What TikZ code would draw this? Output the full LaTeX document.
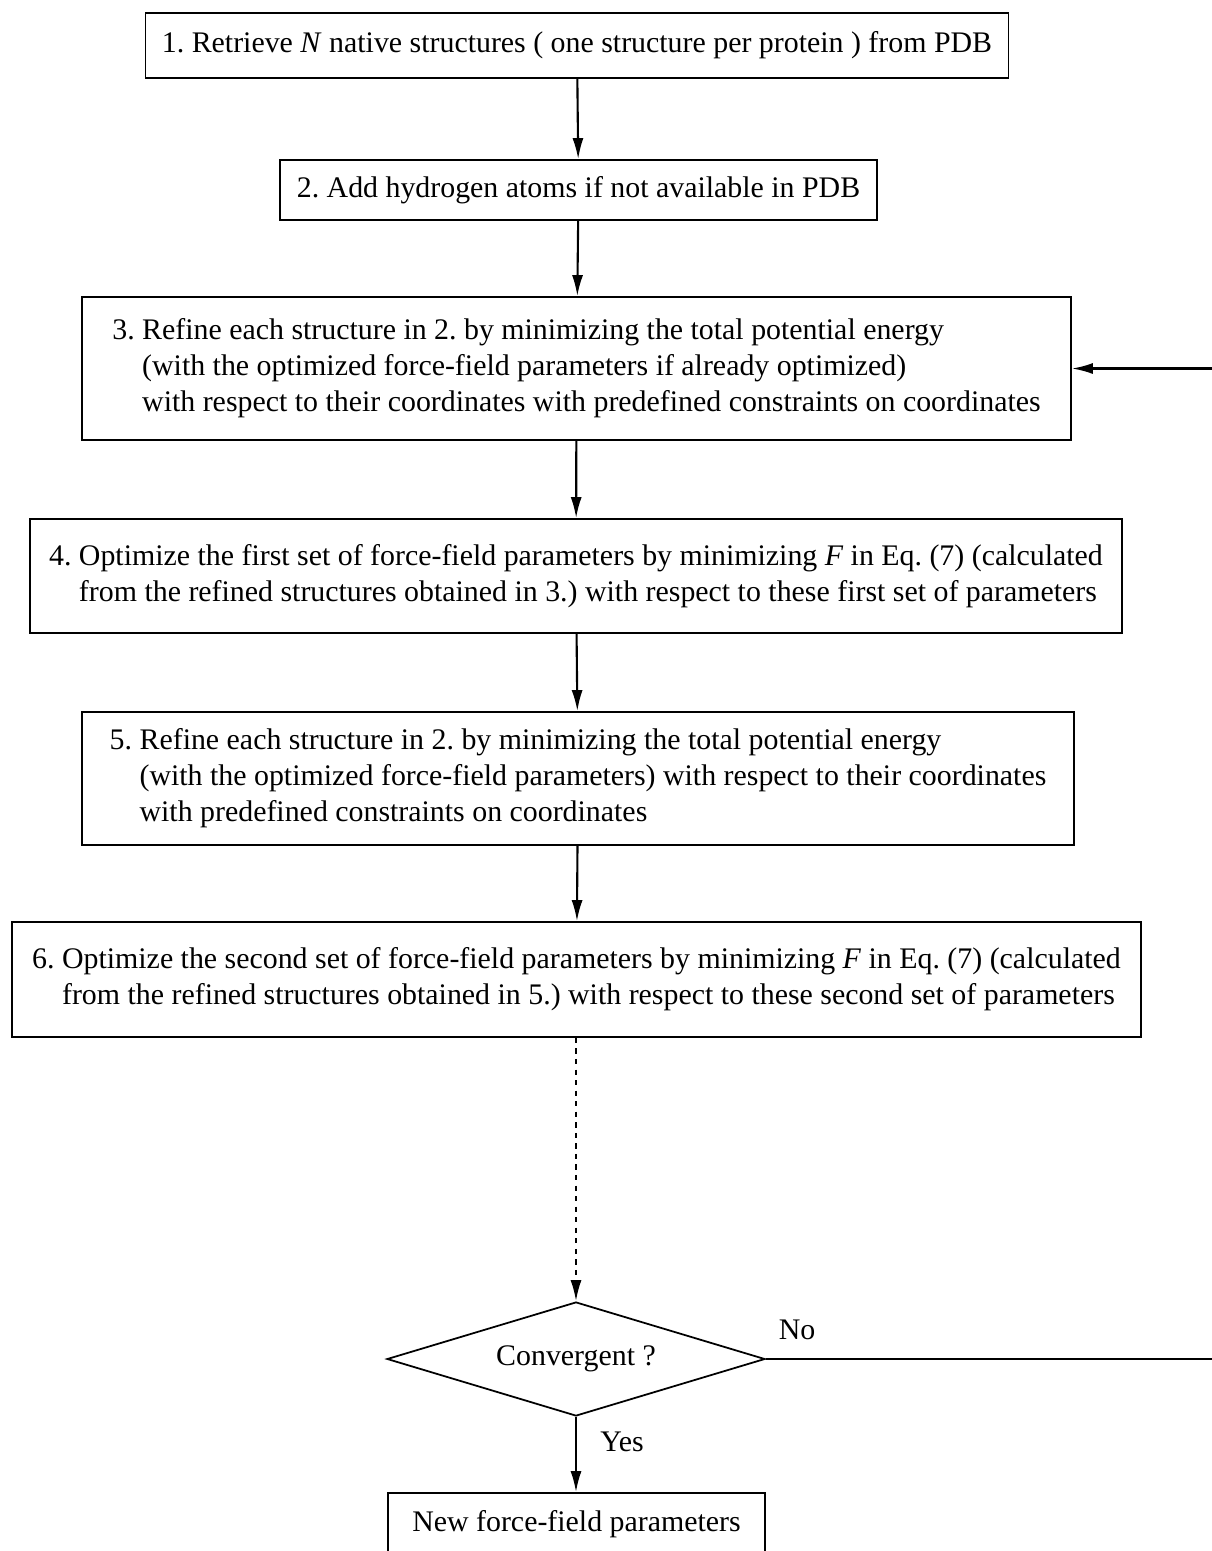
\documentclass[tikz,border=0pt]{standalone}
\usepackage{fontspec}
\setmainfont{Liberation Serif}
\usetikzlibrary{shapes.geometric,arrows.meta}
\frenchspacing

\begin{document}
\begin{tikzpicture}[
        box/.style={draw, line width=1pt, inner sep=0pt, align=left, font=\fontsize{17}{20.5}\selectfont},
        arr/.style={-{Latex[length=0.42cm,width=0.22cm]}, line width=1.2pt},
        lbl/.style={font=\fontsize{17}{20.5}\selectfont}
    ]
        \useasboundingbox (0,0) rectangle (24.24,-31.02);
        % steps
        \node[box, minimum width=17.26cm, minimum height=1.3cm] (s1) at (11.54,-0.91)
            {1. Retrieve \textit{N} native structures ( one structure per protein ) from PDB};
        \node[box, minimum width=11.94cm, minimum height=1.2cm] (s2) at (11.57,-3.8)
            {2. Add hydrogen atoms if not available in PDB};
        \node[box, minimum width=19.78cm, minimum height=2.86cm] (s3) at (11.53,-7.37)
            {3. Refine each structure in 2. by minimizing the total potential energy\\
             \hphantom{3.\ }(with the optimized force-field parameters if already optimized)\\
             \hphantom{3.\ }with respect to their coordinates with predefined constraints on coordinates};
        \node[box, minimum width=21.84cm, minimum height=2.28cm] (s4) at (11.52,-11.52)
            {4. Optimize the first set of force-field parameters by minimizing \textit{F} in Eq. (7) (calculated\\
             \hphantom{4.\ }from the refined structures obtained in 3.) with respect to these first set of parameters};
        \node[box, minimum width=19.84cm, minimum height=2.66cm] (s5) at (11.56,-15.57)
            {5. Refine each structure in 2. by minimizing the total potential energy\\
             \hphantom{5.\ }(with the optimized force-field parameters) with respect to their coordinates\\
             \hphantom{5.\ }with predefined constraints on coordinates};
        \node[box, minimum width=22.58cm, minimum height=2.3cm] (s6) at (11.53,-19.59)
            {6. Optimize the second set of force-field parameters by minimizing \textit{F} in Eq. (7) (calculated\\
             \hphantom{6.\ }from the refined structures obtained in 5.) with respect to these second set of parameters};
        \node[box, diamond, aspect=3.3, minimum width=7.56cm, minimum height=2.28cm] (conv) at (11.52,-27.18)
            {Convergent ?};
        \node[box, minimum width=7.54cm, minimum height=1.24cm] (new) at (11.53,-30.48)
            {New force-field parameters};
        \node[lbl] (no) at (15.94,-26.6) {No};
        \node[lbl] (yes) at (12.44,-28.84) {Yes};
        \coordinate (rt) at (24.3,0);
        % arrows
        \draw[arr] (s1) -- (s2);
        \draw[arr] (s2) -- (s3);
        \draw[arr] (s3) -- (s4);
        \draw[arr] (s4) -- (s5);
        \draw[arr] (s5) -- (s6);
        \draw[arr, dash pattern=on 3pt off 3pt] (s6.south -| conv.north) -- (conv.north);
        \draw[arr] (conv.south) -- (conv.south |- new.north);
        \draw[arr] (conv.east) -- (conv.east -| rt) -- (rt |- s3.east) -- (s3.east);
\end{tikzpicture}
\end{document}
